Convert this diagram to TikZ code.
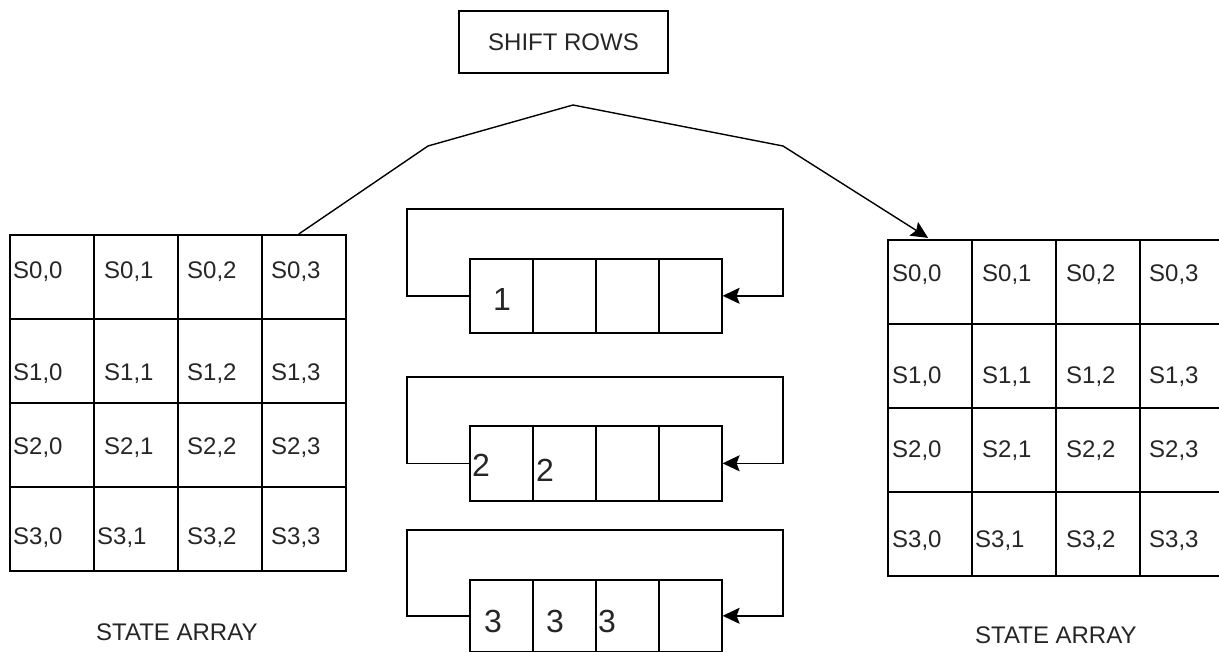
\documentclass[tikz,border=0pt]{standalone}
\usepackage{fontspec}
\setmainfont{Liberation Sans}
\usetikzlibrary{arrows.meta,calc}
\begin{document}
\begin{tikzpicture}[x=1pt,y=-1pt,
  ln/.style={line width=1.6pt, draw=black},
  cell/.style={ln, rectangle, minimum width=84pt, minimum height=84pt, inner sep=0pt, anchor=north west},
  mcell/.style={ln, rectangle, minimum width=63pt, inner sep=0pt, anchor=north west},
  stxt/.style={anchor=base west, inner sep=0pt, text=black!85, font=\fontsize{24}{28}\selectfont},
  dtxt/.style={anchor=base west, inner sep=0pt, text=black!85, font=\fontsize{32}{36}\selectfont},
  arr/.style={ln, -{Stealth[length=17pt,width=16pt,inset=3pt]}},
]
\useasboundingbox (0,0) rectangle (1219,652);
\fill[white] (0,0) rectangle (1219,652);

% title box
\node[ln, rectangle, minimum width=209pt, minimum height=62pt, inner sep=0pt,
      text=black!85, font=\fontsize{24}{28}\selectfont] (title) at (563.5,42) {SHIFT ROWS};

% state arrays
\foreach \r in {0,...,3} {
  \foreach \c in {0,...,3} {
    \node[cell] (L\r\c) at ({9+84*\c},{234+84*\r}) {};
    \node[cell] (R\r\c) at ({887+84*\c},{239+84*\r}) {};
  }
}
\foreach \r/\dy in {0/45,1/63,2/52,3/58} {
  \foreach \c/\dx in {0/4,1/11,2/10,3/10} {
    \pgfmathsetmacro\ddx{\dx - (\r==3)*(\c==1)*7}
    \node[stxt] (LT\r\c) at ($(L\r\c.north west)+(\ddx,\dy)$) {S\r,\c};
  }
}
\foreach \r/\dy in {0/43,1/61,2/50,3/56} {
  \foreach \c/\dx in {0/5,1/11,2/11,3/10} {
    \pgfmathsetmacro\ddx{\dx - (\r==3)*(\c==1)*7}
    \node[stxt] (RT\r\c) at ($(R\r\c.north west)+(\ddx,\dy)$) {S\r,\c};
  }
}
\node[stxt] (lcap) at (96,640) {STATE ARRAY};
\node[stxt] (rcap) at (975,643) {STATE ARRAY};

% middle shift registers
\foreach \b/\top/\h in {1/258/74, 2/425/75, 3/579/72} {
  \foreach \c/\k in {a/0,b/1,c/2,d/3} {
    \node[mcell, minimum height=\h pt] (m\b\c) at ({469+63*\k},\top) {};
  }
}
\coordinate (t1l) at (407,209); \coordinate (t1r) at (783,209);
\coordinate (t2l) at (407,377); \coordinate (t2r) at (783,377);
\coordinate (t3l) at (407,530); \coordinate (t3r) at (783,530);
\draw[arr] ($(m1a.south west)!0.5!(m1a.north west)$) -| (t1l) -- (t1r) |- ($(m1d.south east)!0.5!(m1d.north east)$);
\draw[arr] ($(m2a.south west)!0.5!(m2a.north west)$) -| (t2l) -- (t2r) |- ($(m2d.south east)!0.5!(m2d.north east)$);
\draw[arr] ($(m3a.south west)!0.5!(m3a.north west)$) -| (t3l) -- (t3r) |- ($(m3d.south east)!0.5!(m3d.north east)$);

\node[dtxt] (d1) at (493,311) {1};
\node[dtxt] (d2a) at (472,476) {2};
\node[dtxt] (d2b) at (536,481) {2};
\node[dtxt] (d3a) at (484,632) {3};
\node[dtxt] (d3b) at (546,632) {3};
\node[dtxt] (d3c) at (598,632) {3};

% connector from left array to right array
\coordinate (p1) at (428,146);
\coordinate (p2) at (573,105);
\coordinate (p3) at (783,146);
\draw[arr, line width=1.4pt, shorten >=2pt] ([xshift=-5pt]L03.north) -- (p1) -- (p2) -- (p3) -- (R00.north);
\end{tikzpicture}
\end{document}
